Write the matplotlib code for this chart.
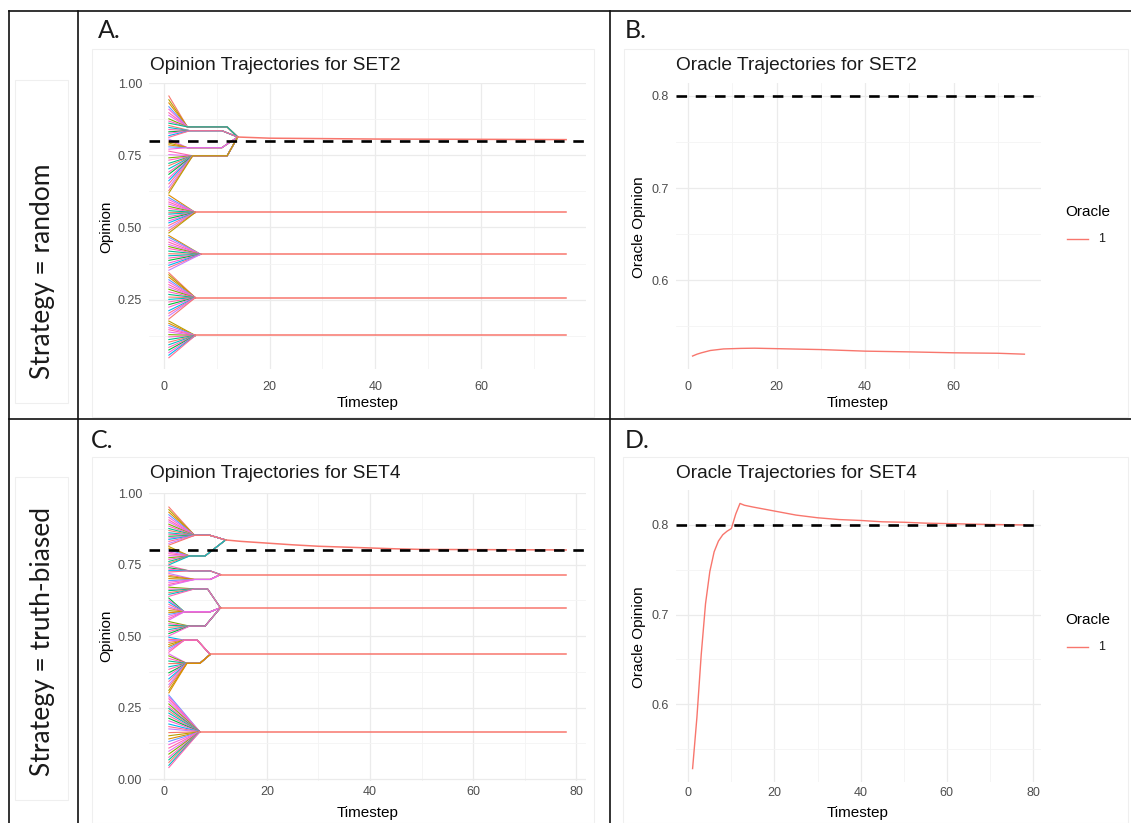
import matplotlib
matplotlib.use("Agg")
import matplotlib.pyplot as plt
from matplotlib.lines import Line2D
from matplotlib.patches import Rectangle

W, H = 1131, 823

# ---------------- panel A: SET2, strategy = random ----------------
# branches: intermediate level an agent group reaches before joining its cluster
a_branch_val = [0.848, 0.835, 0.776, 0.748, 0.552, 0.407, 0.257, 0.126]
a_branch_tin = [4.5, 5.0, 4.5, 5.5, 6.0, 7.0, 6.0, 6.0]
a_branch_tout = [12.0, 11.0, 11.0, 12.0, 6.0, 7.0, 6.0, 6.0]
a_branch_cl = [0, 0, 0, 0, 1, 2, 3, 4]
a_starts = [
    [0.955, 0.942, 0.931, 0.918, 0.909, 0.897, 0.888, 0.876, 0.868, 0.861],
    [0.853, 0.846, 0.839, 0.831, 0.826, 0.818, 0.812],
    [0.806, 0.799, 0.792, 0.786, 0.779, 0.771],
    [0.764, 0.752, 0.741, 0.733, 0.722, 0.714, 0.703, 0.692, 0.684, 0.671,
     0.662, 0.651, 0.639, 0.628, 0.619],
    [0.612, 0.603, 0.596, 0.588, 0.581, 0.573, 0.566, 0.558, 0.551, 0.546,
     0.538, 0.531, 0.523, 0.516, 0.507, 0.498, 0.489, 0.481],
    [0.472, 0.466, 0.458, 0.449, 0.441, 0.434, 0.427, 0.418, 0.409, 0.402,
     0.394, 0.386, 0.377, 0.369, 0.361, 0.352],
    [0.343, 0.336, 0.328, 0.319, 0.311, 0.302, 0.294, 0.286, 0.277, 0.268,
     0.259, 0.251, 0.242, 0.233, 0.224, 0.212, 0.203, 0.194, 0.183],
    [0.176, 0.168, 0.161, 0.153, 0.146, 0.138, 0.129, 0.121, 0.112, 0.103,
     0.094, 0.085, 0.076, 0.067, 0.058, 0.049],
]
a_cluster_t = [[14, 20, 40, 60, 76], [6, 76], [7, 76], [6, 76], [6, 76]]
a_cluster_y = [[0.813, 0.809, 0.806, 0.805, 0.804], [0.552, 0.552],
               [0.407, 0.407], [0.257, 0.257], [0.126, 0.126]]

# ---------------- panel C: SET4, strategy = truth-biased ----------------
c_branch_val = [0.852, 0.780, 0.728, 0.698, 0.665, 0.585, 0.535, 0.486, 0.405, 0.166]
c_branch_tin = [6.0, 5.0, 5.0, 6.0, 6.0, 4.0, 5.0, 4.0, 4.5, 7.0]
c_branch_tout = [9.0, 8.0, 9.0, 9.0, 8.5, 9.0, 8.0, 6.5, 7.0, 7.0]
c_branch_cl = [0, 0, 1, 1, 2, 2, 2, 3, 3, 4]
c_starts = [
    [0.951, 0.942, 0.933, 0.924, 0.915, 0.906, 0.899, 0.891, 0.884, 0.876,
     0.869, 0.861, 0.856, 0.849, 0.843, 0.838, 0.831, 0.824, 0.818],
    [0.813, 0.807, 0.801, 0.794, 0.788, 0.781, 0.774, 0.768, 0.761, 0.755, 0.749],
    [0.746, 0.739, 0.734, 0.729, 0.724],
    [0.719, 0.713, 0.708, 0.701, 0.694, 0.688, 0.681, 0.676],
    [0.671, 0.664, 0.659, 0.652, 0.646, 0.639],
    [0.633, 0.626, 0.619, 0.611, 0.603, 0.597, 0.589, 0.582, 0.576, 0.569, 0.562, 0.556],
    [0.551, 0.544, 0.538, 0.531, 0.523, 0.516, 0.509, 0.501],
    [0.496, 0.489, 0.484, 0.478, 0.471, 0.464, 0.458, 0.451, 0.444],
    [0.438, 0.431, 0.422, 0.413, 0.404, 0.393, 0.384, 0.372, 0.363, 0.351,
     0.342, 0.331, 0.322, 0.311, 0.302],
    [0.294, 0.288, 0.281, 0.272, 0.263, 0.254, 0.247, 0.239, 0.231, 0.222,
     0.213, 0.204, 0.193, 0.184, 0.176, 0.163, 0.152, 0.141, 0.132, 0.121,
     0.109, 0.098, 0.088, 0.077, 0.068, 0.059, 0.049, 0.041],
]
c_cluster_t = [[12, 15, 20, 25, 30, 35, 40, 45, 50, 78], [11, 78], [11, 78], [9, 78], [7, 78]]
c_cluster_y = [[0.836, 0.831, 0.825, 0.819, 0.814, 0.811, 0.808, 0.805, 0.803, 0.801],
               [0.715, 0.715], [0.599, 0.599], [0.436, 0.436], [0.166, 0.166]]

# ---------------- oracle trajectories ----------------
b_t = [1, 2, 3, 5, 8, 12, 15, 20, 30, 40, 50, 60, 70, 76]
b_y = [0.5175, 0.5195, 0.521, 0.5235, 0.5252, 0.5258, 0.526, 0.5255,
       0.5245, 0.5228, 0.522, 0.521, 0.5205, 0.5195]
d_t = [1, 2, 3, 4, 5, 6, 7, 8, 9, 10, 11, 12, 13, 15, 20, 25, 30, 35, 40,
       45, 50, 55, 60, 70, 78]
d_y = [0.528, 0.585, 0.655, 0.712, 0.748, 0.770, 0.782, 0.789, 0.793, 0.796,
       0.812, 0.824, 0.822, 0.820, 0.8155, 0.811, 0.808, 0.806, 0.805,
       0.8035, 0.803, 0.802, 0.8015, 0.8005, 0.800]
truth = 0.8

palette = ['#F8766D', '#00BA38', '#FF61C3', '#619CFF', '#FF6C91', '#00BFC4',
           '#E76BF3', '#B79F00', '#FD61D1', '#00C08B', '#F564E3', '#C77CFF',
           '#FF64B0', '#7CAE00', '#DE8C00', '#00B4F0', '#F8766D', '#FF66A8']
oracle_col = '#F8766D'
tick_col = '#4D4D4D'
grid_major = '#EBEBEB'
grid_minor = '#F4F4F4'

plt.rcParams['font.family'] = ['Liberation Sans', 'DejaVu Sans']
fig = plt.figure(figsize=(W / 100, H / 100), dpi=100)
fig.patch.set_facecolor('white')


def fx(x):
    return x / W


def fy(y):
    return 1 - y / H


def add_panel(l, t, r, b):
    ax = fig.add_axes([fx(l), fy(b), (r - l) / W, (b - t) / H])
    for s in ax.spines.values():
        s.set_visible(False)
    ax.set_axisbelow(True)
    ax.tick_params(length=0, labelsize=9, labelcolor=tick_col)
    return ax


def style_grid(ax, xmaj, xmin, ymaj, ymin):
    ax.set_xticks(xmaj)
    ax.set_xticks(xmin, minor=True)
    ax.set_yticks(ymaj)
    ax.set_yticks(ymin, minor=True)
    ax.tick_params(which='minor', length=0)
    ax.grid(True, which='major', color=grid_major, lw=0.9)
    ax.grid(True, which='minor', color=grid_minor, lw=0.6)


def draw_agents(ax, starts, bval, btin, btout, bcl, ct, cy):
    k = 0
    for bi, group in enumerate(starts):
        cl = bcl[bi]
        for s in group:
            ts = [1, btin[bi], btout[bi], ct[cl][0]]
            ys = [s, bval[bi], bval[bi], cy[cl][0]]
            ax.plot(ts, ys, color=palette[(k * 7) % len(palette)], lw=0.8)
            k += 1
    for tt, yy in zip(ct, cy):
        ax.plot(tt, yy, color=oracle_col, lw=1.1)


def hline(ax):
    ax.axhline(truth, color='black', lw=1.9, ls=(0, (4, 3.3)))


# ---- panel A
axA = add_panel(149, 83, 586, 369)
style_grid(axA, [0, 20, 40, 60], [10, 30, 50, 70],
           [0.25, 0.5, 0.75, 1.0], [0.125, 0.375, 0.625, 0.875])
draw_agents(axA, a_starts, a_branch_val, a_branch_tin, a_branch_tout,
            a_branch_cl, a_cluster_t, a_cluster_y)
hline(axA)
axA.set_xlim(-2.75, 79.75)
axA.set_ylim(0.01, 1.0)
axA.set_yticklabels(['0.25', '0.50', '0.75', '1.00'])

# ---- panel B
axB = add_panel(676, 83, 1041, 369)
style_grid(axB, [0, 20, 40, 60], [10, 30, 50, 70],
           [0.6, 0.7, 0.8], [0.55, 0.65, 0.75])
axB.plot(b_t, b_y, color=oracle_col, lw=1.0)
hline(axB)
axB.set_xlim(-2.75, 79.75)
axB.set_ylim(0.5034, 0.8141)

# ---- panel C
axC = add_panel(149, 493, 586, 781)
style_grid(axC, [0, 20, 40, 60, 80], [10, 30, 50, 70],
           [0.0, 0.25, 0.5, 0.75, 1.0], [0.125, 0.375, 0.625, 0.875])
draw_agents(axC, c_starts, c_branch_val, c_branch_tin, c_branch_tout,
            c_branch_cl, c_cluster_t, c_cluster_y)
hline(axC)
axC.set_xlim(-2.85, 81.85)
axC.set_ylim(-0.006, 1.0)
axC.set_yticklabels(['0.00', '0.25', '0.50', '0.75', '1.00'])

# ---- panel D
axD = add_panel(676, 490, 1041, 782)
style_grid(axD, [0, 20, 40, 60, 80], [10, 30, 50, 70],
           [0.6, 0.7, 0.8], [0.55, 0.65, 0.75])
axD.plot(d_t, d_y, color=oracle_col, lw=1.0)
hline(axD)
axD.set_xlim(-2.85, 81.85)
axD.set_ylim(0.513, 0.839)

for ax in (axA, axB, axC, axD):
    ax.tick_params(axis='y', pad=5)
for ax in (axA, axB):
    ax.tick_params(axis='x', pad=9)
for ax in (axC, axD):
    ax.tick_params(axis='x', pad=3.5)


def ftext(x, y, s, **kw):
    fig.text(fx(x), fy(y), s, **kw)


# titles and axis labels
ftext(150, 65, 'Opinion Trajectories for SET2', fontsize=13.8, va='center', color='#1a1a1a')
ftext(676, 65, 'Oracle Trajectories for SET2', fontsize=13.8, va='center', color='#1a1a1a')
ftext(150, 474, 'Opinion Trajectories for SET4', fontsize=13.8, va='center', color='#1a1a1a')
ftext(676, 474, 'Oracle Trajectories for SET4', fontsize=13.8, va='center', color='#1a1a1a')

for y in (403, 813):
    ftext(368, y, 'Timestep', fontsize=11, ha='center', va='center')
    ftext(858, y, 'Timestep', fontsize=11, ha='center', va='center')
ftext(106, 227, 'Opinion', fontsize=11, rotation=90, ha='center', va='center')
ftext(106, 636, 'Opinion', fontsize=11, rotation=90, ha='center', va='center')
ftext(639, 227, 'Oracle Opinion', fontsize=11, rotation=90, ha='center', va='center')
ftext(639, 637, 'Oracle Opinion', fontsize=11, rotation=90, ha='center', va='center')

# legends
for ly in (212, 620):
    ftext(1065, ly, 'Oracle', fontsize=11, va='center')
    fig.add_artist(Line2D([fx(1067), fx(1088)], [fy(ly + 27), fy(ly + 27)],
                          color=oracle_col, lw=1.0))
    ftext(1098, ly + 27, '1', fontsize=9, va='center', color='#1a1a1a')

# panel letters and row labels
lab = dict(fontsize=18, family=['Lato', 'DejaVu Sans'], va='center', color='#1a1a1a')
ftext(98, 31, 'A.', **lab)
ftext(625, 31, 'B.', **lab)
ftext(91, 440, 'C.', **lab)
ftext(625, 440, 'D.', **lab)
ftext(43, 271, 'Strategy = random', fontsize=19, family=['Lato', 'DejaVu Sans'],
      rotation=90, ha='center', va='center', color='#1a1a1a')
ftext(43, 641, 'Strategy = truth-biased', fontsize=19, family=['Lato', 'DejaVu Sans'],
      rotation=90, ha='center', va='center', color='#1a1a1a')

# faint outlines of the pasted plot images
for (l, t, r, b) in [(92, 49, 594, 417), (624, 49, 1128, 417),
                     (92, 457, 594, 823), (623, 457, 1128, 823),
                     (15, 80, 68, 403), (15, 477, 68, 800)]:
    fig.add_artist(Rectangle((fx(l), fy(b)), (r - l) / W, (b - t) / H,
                             fill=False, ec='#EFEFEF', lw=0.8))

# table borders
border = dict(color='#111111', lw=1.2)
for (x0, y0, x1, y1) in [(9, 11, 1131, 11), (9, 419, 1131, 419),
                         (9, 11, 9, 823), (78, 11, 78, 823), (610, 11, 610, 823)]:
    fig.add_artist(Line2D([fx(x0), fx(x1)], [fy(y0), fy(y1)], **border))

fig.savefig('out.png', dpi=100, facecolor='white')
